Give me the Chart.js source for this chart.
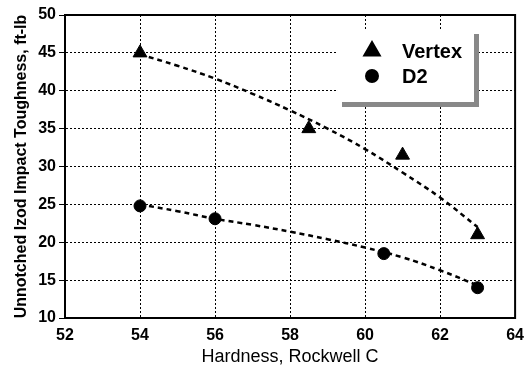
<!DOCTYPE html>
<html lang="en">
<head>
    <meta charset="UTF-8">
    <script src="https://cdn.jsdelivr.net/npm/chart.js"></script>
    <title>Impact Toughness</title>
    <style>
        body { margin: 0; background: #fff; }
        #chart { display: block; }
    </style>
</head>
<body>
    <canvas id="chart" width="532" height="368"></canvas>

    <script>
        // measured points
        const vertexHardness = [54, 58.5, 61, 63];
        const vertexToughness = [45, 35, 31.5, 21];
        const d2Hardness = [54, 56, 60.5, 63];
        const d2Toughness = [24.8, 23.1, 18.5, 14];

        // trend curves
        const trendHardness = [54, 55, 56, 57, 58, 59, 60, 61, 62, 63];
        const vertexTrend = [44.8, 43.3, 41.6, 39.6, 37.4, 35.0, 32.3, 29.2, 25.9, 22.0];
        const d2Trend = [25.0, 24.1, 23.1, 22.3, 21.4, 20.4, 19.3, 18.0, 16.3, 14.3];

        const FONT = "'Liberation Sans', Arial, sans-serif";

        const toPoints = (xs, ys) => xs.map((x, i) => ({x: x, y: ys[i]}));

        // box with shadow + frame around plot area
        const frameAndLegend = {
            id: 'frameAndLegend',
            afterDraw(chart) {
                const ctx = chart.ctx;
                const a = chart.chartArea;
                ctx.save();
                ctx.strokeStyle = '#000';
                ctx.lineWidth = 2;
                ctx.strokeRect(a.left, a.top, a.right - a.left, a.bottom - a.top);

                // legend
                const bx = 337, by = 29, bw = 137, bh = 73;
                ctx.fillStyle = '#888';
                ctx.fillRect(bx + 5, by + 5, bw, bh);
                ctx.fillStyle = '#fff';
                ctx.fillRect(bx, by, bw, bh);

                const items = [chart.data.datasets[2], chart.data.datasets[3]];
                items.forEach((ds, i) => {
                    const y = by + 22 + i * 25;
                    ctx.fillStyle = '#000';
                    ctx.strokeStyle = '#000';
                    Chart.helpers.drawPoint(ctx, {
                        pointStyle: ds.pointStyle,
                        radius: ds.pointStyle === 'triangle' ? 9 : 6,
                        borderWidth: 1
                    }, 372, y);
                    ctx.fillStyle = '#000';
                    ctx.font = 'bold 20px ' + FONT;
                    ctx.textBaseline = 'middle';
                    ctx.textAlign = 'left';
                    ctx.fillText(ds.label, 402, y + 1);
                });
                ctx.restore();
            }
        };

        const config = {
            type: 'scatter',
            data: {
                datasets: [
                    {
                        label: 'Vertex trend',
                        data: toPoints(trendHardness, vertexTrend),
                        showLine: true,
                        tension: 0.4,
                        borderColor: '#000',
                        borderWidth: 2.5,
                        borderDash: [5, 4],
                        pointRadius: 0
                    },
                    {
                        label: 'D2 trend',
                        data: toPoints(trendHardness, d2Trend),
                        showLine: true,
                        tension: 0.4,
                        borderColor: '#000',
                        borderWidth: 2.5,
                        borderDash: [5, 4],
                        pointRadius: 0
                    },
                    {
                        label: 'Vertex',
                        data: toPoints(vertexHardness, vertexToughness),
                        pointStyle: 'triangle',
                        pointRadius: 8,
                        backgroundColor: '#000',
                        borderColor: '#000',
                        borderWidth: 1
                    },
                    {
                        label: 'D2',
                        data: toPoints(d2Hardness, d2Toughness),
                        pointStyle: 'circle',
                        pointRadius: 6,
                        backgroundColor: '#000',
                        borderColor: '#000',
                        borderWidth: 1
                    }
                ]
            },
            options: {
                responsive: false,
                animation: false,
                layout: {
                    padding: {left: 0, right: 12, top: 15, bottom: 0}
                },
                plugins: {
                    legend: {display: false},
                    tooltip: {enabled: false}
                },
                scales: {
                    x: {
                        type: 'linear',
                        min: 52,
                        max: 64,
                        ticks: {
                            stepSize: 2,
                            color: '#000',
                            padding: 8,
                            font: {family: FONT, size: 16, weight: 'bold'}
                        },
                        grid: {
                            color: '#000',
                            lineWidth: 1,
                            drawTicks: false
                        },
                        border: {color: '#000', width: 2, dash: [2, 2]},
                        title: {
                            display: true,
                            text: 'Hardness, Rockwell C',
                            color: '#000',
                            padding: {top: 0, bottom: 0},
                            font: {family: FONT, size: 18}
                        },
                        afterFit(scale) { scale.height = 50; }
                    },
                    y: {
                        min: 10,
                        max: 50,
                        ticks: {
                            stepSize: 5,
                            color: '#000',
                            padding: 3,
                            font: {family: FONT, size: 16, weight: 'bold'}
                        },
                        grid: {
                            color: '#000',
                            lineWidth: 1,
                            tickLength: 6,
                            tickColor: '#000',
                            tickBorderDash: []
                        },
                        border: {color: '#000', width: 2, dash: [2, 2]},
                        title: {
                            display: true,
                            text: 'Unnotched Izod Impact Toughness, ft-lb',
                            color: '#000',
                            padding: {top: 12, bottom: 0},
                            font: {family: FONT, size: 16, weight: 'bold'}
                        },
                        afterFit(scale) { scale.width = 65; }
                    }
                }
            },
            plugins: [frameAndLegend]
        };

        new Chart(document.getElementById('chart').getContext('2d'), config);
    </script>
</body>
</html>
